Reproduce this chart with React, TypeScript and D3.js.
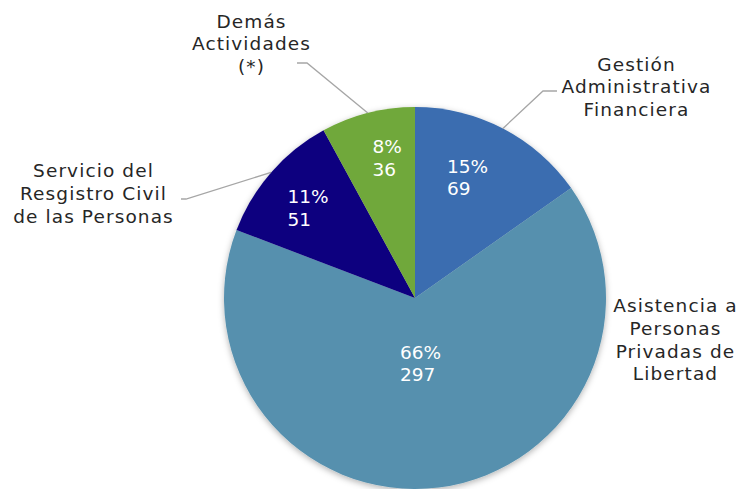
import React from "react";
import * as d3 from "d3";

const categories = [
  "Gestión Administrativa Financiera",
  "Asistencia a Personas Privadas de Libertad",
  "Servicio del Resgistro Civil de las Personas",
  "Demás Actividades (*)",
];
const values = [69, 297, 51, 36];
const percents = ["15%", "66%", "11%", "8%"];
const colors = ["#3a6db0", "#5690ae", "#10007f", "#70a83a"];

const labelLines = [
  ["Gestión", "Administrativa", "Financiera"],
  ["Asistencia a", "Personas", "Privadas de", "Libertad"],
  ["Servicio del", "Resgistro Civil", "de las Personas"],
  ["Demás", "Actividades", "(*)"],
];

const W = 738;
const H = 489;
const cx = 415;
const cy = 298;
const R = 191;
const FONT = "'DejaVu Sans', sans-serif";

const outerPos = [
  { x: 636.5, y: 70.5, elbow: [543, 91], end: [557, 91] },
  { x: 675.5, y: 312, elbow: null, end: null },
  { x: 93.5, y: 177, elbow: [186, 199], end: [181, 199] },
  { x: 251.5, y: 27.5, elbow: [307, 63], end: [297, 63] },
];
const innerPos = [
  { x: 447, y: 172.5 },
  { x: 400, y: 358.5 },
  { x: 287.5, y: 203 },
  { x: 372.5, y: 153 },
];

export default function App() {
  const pie = d3.pie<number>().sort(null).value((d) => d);
  const arcs = pie(values);
  const arcGen = d3.arc<d3.PieArcDatum<number>>().innerRadius(0).outerRadius(R);
  const line = d3.line();

  return (
    <svg width={W} height={H} style={{ position: "absolute", left: 0, top: 0 }}>
      <defs>
        <filter id="sh" x="-20%" y="-20%" width="140%" height="140%">
          <feDropShadow dx="0" dy="2" stdDeviation="3" floodColor="#000" floodOpacity="0.3" />
        </filter>
      </defs>
      <rect width={W} height={H} fill="#fff" />
      <g transform={`translate(${cx},${cy})`} filter="url(#sh)">
        {arcs.map((a, i) => (
          <path key={i} d={arcGen(a) || ""} fill={colors[i]} />
        ))}
      </g>
      {arcs.map((a, i) => {
        const p = outerPos[i];
        if (!p.elbow) return null;
        const mid = (a.startAngle + a.endAngle) / 2;
        const sx = cx + R * Math.sin(mid);
        const sy = cy - R * Math.cos(mid);
        return (
          <path
            key={"l" + i}
            d={line([[sx, sy], p.elbow as [number, number], p.end as [number, number]]) || ""}
            fill="none"
            stroke="#a6a6a6"
            strokeWidth={1.3}
          />
        );
      })}
      {labelLines.map((lines, i) => (
        <text
          key={"o" + i}
          x={outerPos[i].x}
          y={outerPos[i].y}
          textAnchor="middle"
          fontFamily={FONT}
          fontSize={18.5}
          letterSpacing={1.1}
          fill="#262626"
        >
          {lines.map((t, j) => (
            <tspan key={j} x={outerPos[i].x} dy={j === 0 ? 0 : 22.8}>
              {t}
            </tspan>
          ))}
        </text>
      ))}
      {values.map((v, i) => (
        <text
          key={"i" + i}
          x={innerPos[i].x}
          y={innerPos[i].y}
          fontFamily={FONT}
          fontSize={18.5}
          fill="#ffffff"
        >
          <tspan x={innerPos[i].x} dy={0}>{percents[i]}</tspan>
          <tspan x={innerPos[i].x} dy={22.5}>{v}</tspan>
        </text>
      ))}
    </svg>
  );
}
